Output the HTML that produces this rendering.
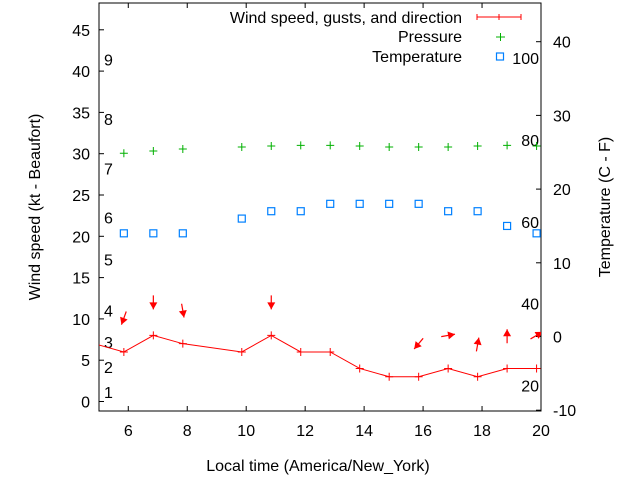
<!DOCTYPE html>
<html><head><meta charset="utf-8"><style>
body{margin:0;background:#fff}
svg text{font-family:"Liberation Sans",sans-serif;font-size:16px;fill:#000}
</style></head><body>
<svg id="c" width="640" height="480" viewBox="0 0 640 480" xmlns="http://www.w3.org/2000/svg"></svg>
<script>
const hours=[4.85,5.85,6.85,7.85,9.85,10.85,11.85,12.85,13.85,14.85,15.85,16.85,17.85,18.85,19.85];
const windKt=[7,6,8,7,6,8,6,6,4,3,3,4,3,4,4];
const gustKt=[null,10.1,12,11,null,12,null,null,null,null,7,8,6.9,7.9,8];
const windFrom=[null,20,0,350,null,0,null,null,null,null,40,260,190,180,240];
const pressure=[null,30.05,30.33,30.57,30.81,30.93,31.01,31.01,30.93,30.81,30.81,30.81,30.93,31.01,30.93];
const tempC=[null,14,14,14,16,17,17,18,18,18,18,17,17,15,14];
const xTicks=[6,8,10,12,14,16,18,20];
const yTicks=[0,5,10,15,20,25,30,35,40,45];
const y2Ticks=[-10,0,10,20,30,40];
const beaufortLabels=["1","2","3","4","5","6","7","8","9"];
const beaufortKt=[1.15,4.2,7.2,11,17.2,22.3,28.2,34.2,41.4];
const fLabels=[20,40,60,80,100];

const L=99,R=541,T=3,B=411;
const X=h=>98.8+(h-5)*29.48;
const Y=v=>401.5-v*8.26;
const Y2=c=>336.5-c*7.37;
const svg=document.getElementById('c');
const NS='http://www.w3.org/2000/svg';
function mk(tag,attrs,name,parent){const e=document.createElementNS(NS,tag);for(const k in attrs)e.setAttribute(k,attrs[k]);


(parent||svg).appendChild(e);return e;}
function txt(s,x,y,anchor,name,extra){const t=mk('text',Object.assign({x:x,y:y,'text-anchor':anchor||'start'},extra||{}),name);t.textContent=s;return t;}

const defs=mk('defs',{},'defs');
const cp=mk('clipPath',{id:'clip'},'clip',defs);
mk('rect',{x:L,y:T,width:R-L,height:B-T},'clip-rect',cp);

mk('rect',{x:L,y:T,width:R-L,height:B-T,fill:'none',stroke:'#000','stroke-width':1},'plot-frame');
xTicks.forEach(h=>{const x=X(h);
mk('line',{x1:x,y1:B,x2:x,y2:B-5,stroke:'#000'},'x-tick');
mk('line',{x1:x,y1:T,x2:x,y2:T+5,stroke:'#000'},'x-tick-top');
txt(String(h),x,436,'middle','x-tick-label');});
yTicks.forEach(v=>{const y=Y(v);
mk('line',{x1:L,y1:y,x2:L+5,y2:y,stroke:'#000'},'y-tick');
txt(String(v),90,y+6,'end','y-tick-label');});
y2Ticks.forEach(c=>{const y=Y2(c);
mk('line',{x1:R,y1:y,x2:R-5,y2:y,stroke:'#000'},'y2-tick');
txt(String(c),553,y+6,'start','y2-tick-label');});
beaufortKt.forEach((v,i)=>txt(beaufortLabels[i],104,Y(v)+6,'start','beaufort-label'));
fLabels.forEach(f=>{const c=(f-32)*5/9;txt(String(f),539,Y2(c)+6,'end','fahrenheit-label');});

txt('Local time (America/New_York)',318,471,'middle','x-axis-title');
txt('Wind speed (kt - Beaufort)',0,0,'middle','y-axis-title',{transform:'translate(40,207) rotate(-90)'});
txt('Temperature (C - F)',0,0,'middle','y2-axis-title',{transform:'translate(610,207) rotate(-90)'});

const g=mk('g',{'clip-path':'url(#clip)'},'series');
let d='';hours.forEach((h,i)=>{d+=(i?'L':'M')+X(h)+' '+Y(windKt[i]);});
mk('path',{d:d,fill:'none',stroke:'#f00','stroke-width':1},'wind-line',g);
function plus(x,y,col,name,s){mk('path',{d:`M${x-s} ${y}H${x+s}M${x} ${y-s}V${y+s}`,stroke:col,'stroke-width':1,fill:'none'},name,g);}
hours.forEach((h,i)=>plus(X(h),Y(windKt[i]),'#f00','wind-point',4));
hours.forEach((h,i)=>{if(gustKt[i]==null)return;
const cx=X(h),cy=Y(gustKt[i]);const to=(windFrom[i]+180)*Math.PI/180;
const dx=Math.sin(to),dy=-Math.cos(to);const len=14;
const tx=cx-dx*len/2,ty=cy-dy*len/2,hx=cx+dx*len/2,hy=cy+dy*len/2;
mk('line',{x1:tx,y1:ty,x2:hx,y2:hy,stroke:'#f00','stroke-width':1.2},'wind-arrow',g);
const px=-dy,py=dx;
mk('polygon',{points:`${hx},${hy} ${hx-dx*7+px*4},${hy-dy*7+py*4} ${hx-dx*7-px*4},${hy-dy*7-py*4}`,fill:'#f00'},'wind-arrow-head',g);});
hours.forEach((h,i)=>{if(pressure[i]==null)return;plus(X(h),Y(pressure[i]),'#00b000','pressure-point',4);});
hours.forEach((h,i)=>{if(tempC[i]==null)return;
mk('rect',{x:X(h)-3.5,y:Y2(tempC[i])-3.5,width:7,height:7,fill:'none',stroke:'#0080ff','stroke-width':1.2},'temperature-point',g);});

txt('Wind speed, gusts, and direction',462,23,'end','legend-wind-label');
mk('path',{d:'M477 17H521M477 14V20M521 14V20M499 14V20',stroke:'#f00',fill:'none'},'legend-wind-sample');
txt('Pressure',462,42,'end','legend-pressure-label');
mk('path',{d:'M496 37H505M500.5 33V41',stroke:'#00b000',fill:'none'},'legend-pressure-sample');
txt('Temperature',462,62,'end','legend-temperature-label');
mk('rect',{x:496.5,y:53,width:7,height:7,fill:'none',stroke:'#0080ff','stroke-width':1.2},'legend-temperature-sample');
</script>
</body></html>
